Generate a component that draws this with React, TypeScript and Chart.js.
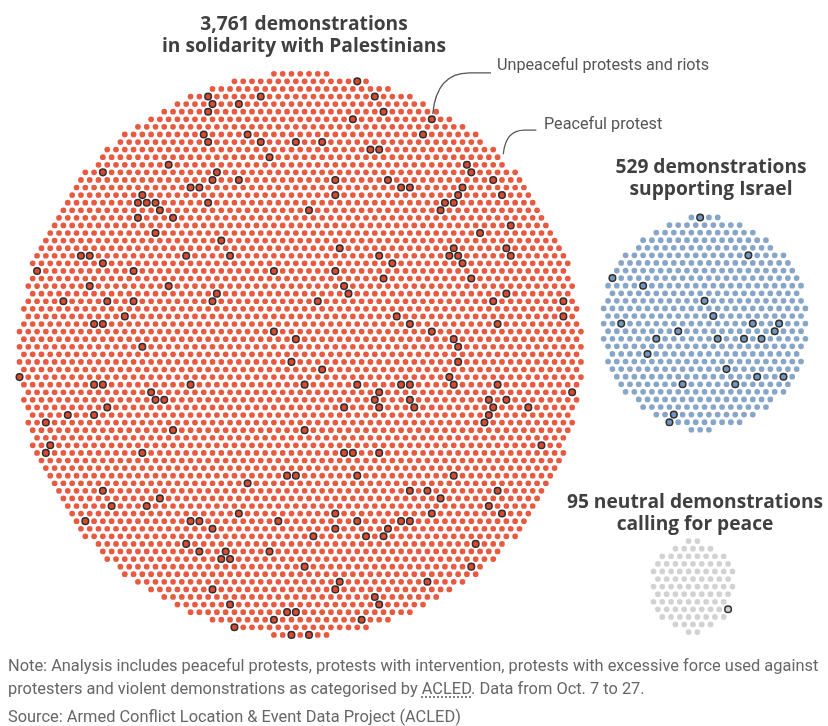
import React, { useEffect, useRef } from "react";
import { Chart, registerables } from "chart.js";

Chart.register(...registerables);

// ---------- DATA ----------
const categories = [
  "3,761 demonstrations in solidarity with Palestinians",
  "529 demonstrations supporting Israel",
  "95 neutral demonstrations calling for peace",
];
const demonstrations = [3761, 529, 95];

// Unpeaceful protests and riots: which dot of each group's hex grid is highlighted,
// given as [column, row] relative to the group's centre row.
const unpeacefulPalestinians: number[][] = [
  [-10, -34], [-4, -34], [-10, -33], [-7, -33], [-10, -32], [-11, -29], [-6, -29], [-10, -28], [-4, -28], [0, -28],
  [-3, -26], [-15, -25], [-22, -24], [-9, -24], [-10, -23], [-7, -23], [-12, -22], [-11, -22], [-18, -21], [-18, -20],
  [-17, -20], [-16, -20], [-10, -20], [-16, -19], [-18, -18], [-14, -18], [-16, -16], [-9, -15], [-25, -13], [-24, -13],
  [-13, -13], [-8, -13], [-22, -12], [-30, -11], [-19, -11], [-3, -11], [-24, -9], [-15, -9], [-9, -8], [-27, -7],
  [-22, -7], [-19, -7], [-10, -7], [-20, -5], [-23, -4], [-22, -4], [-3, -3], [0, -2], [-18, -1], [7, -36],
  [9, -34], [10, -32], [6, -31], [15, -31], [14, -29], [3, -28], [8, -27], [9, -27], [19, -25], [20, -24],
  [4, -23], [10, -23], [22, -23], [12, -22], [13, -22], [19, -22], [18, -21], [4, -21], [23, -21], [17, -20],
  [18, -20], [1, -19], [16, -19], [24, -17], [21, -16], [5, -14], [18, -14], [24, -14], [9, -13], [17, -13],
  [18, -13], [24, -13], [11, -12], [19, -12], [4, -11], [10, -10], [20, -10], [5, -9], [6, -8], [24, -8],
  [2, -7], [22, -7], [30, -7], [11, -5], [30, -5], [13, -4], [23, -4], [15, -3], [18, -2], [18, -1],
  [-1, 1], [-32, 3], [-23, 4], [-22, 4], [-12, 4], [-17, 5], [-16, 6], [-15, 6], [-22, 7], [-26, 8],
  [-23, 8], [-29, 9], [-14, 10], [-28, 12], [-29, 13], [-18, 13], [-1, 16], [0, 16], [-6, 17], [-22, 18],
  [-16, 19], [-21, 20], [-17, 20], [-7, 21], [-24, 22], [-12, 22], [-11, 22], [-2, 22], [-10, 23], [-13, 25],
  [-11, 26], [-8, 26], [-3, 26], [-9, 27], [-8, 27], [-10, 31], [-8, 33], [-1, 34], [0, 34], [-3, 35],
  [-7, 36], [-1, 37], [18, 1], [3, 2], [17, 3], [1, 4], [7, 4], [12, 4], [13, 4], [18, 4],
  [23, 4], [31, 5], [9, 5], [9, 6], [13, 6], [22, 6], [24, 6], [5, 7], [9, 7], [13, 7],
  [22, 7], [26, 7], [22, 8], [21, 9], [1, 10], [28, 12], [5, 13], [6, 13], [9, 13], [7, 16],
  [18, 16], [13, 18], [15, 18], [23, 18], [16, 19], [22, 20], [4, 21], [15, 21], [23, 21], [7, 22],
  [12, 22], [13, 22], [4, 23], [10, 23], [2, 24], [8, 24], [10, 24], [20, 25], [1, 28], [20, 28],
  [5, 30], [4, 31], [15, 30], [9, 32], [9, 33], [7, 35], [1, 37],
];
const unpeacefulIsrael: number[][] = [
  [0, -14], [5, -9], [-10, -6], [-7, -5], [0, -3], [1, -1], [-9, 0], [6, 0], [9, 0], [-3, 1],
  [8, 1], [-5, 2], [2, 2], [5, 2], [7, 2], [-6, 4], [3, 6], [6, 7], [9, 7], [-2, 8],
  [4, 8], [-3, 12], [-4, 13],
];
const unpeacefulNeutral: number[][] = [[4, 3]];

const unpeaceful = [unpeacefulPalestinians, unpeacefulIsrael, unpeacefulNeutral];

// ---------- LAYOUT / STYLE ----------
const W = 828;
const H = 726;
const DX = 8.89; // dot pitch
const DY = (DX * Math.sqrt(3)) / 2; // row pitch
const CENTERS = [
  { x: 298.7, y: 354.2 },
  { x: 708.45, y: 323.0 },
  { x: 696.75, y: 590.0 },
];
// vertical weighting of the packing distance (slightly taller discs for the small groups)
const PACK_ASPECT = [1, 0.98, 0.9];
const FILL = ["#e85a40", "#87a6c7", "#d2d2d2"];
const FILL_DARK = ["#d9482f", "#7395bb", "#d2d2d2"];
const RING = "#2e2e2e";
const TEXT = "#404040";

// hex-grid disc of n dots, closest to the centre first
function hexDisc(n: number, k: number): number[][] {
  const R = Math.ceil(Math.sqrt(n / Math.PI)) + 4;
  const pts: { c: number; r: number; d: number }[] = [];
  for (let r = -R; r <= R; r++) {
    for (let c = -R; c <= R + 1; c++) {
      const gx = c + (Math.abs(r) % 2 ? 0.5 : 0) - 0.5;
      const gy = ((r * Math.sqrt(3)) / 2) * k;
      pts.push({ c, r, d: gx * gx + gy * gy });
    }
  }
  pts.sort((a, b) => a.d - b.d || a.r - b.r || a.c - b.c);
  return pts.slice(0, n).map((p) => [p.c, p.r]);
}

function toPoint(g: number, cell: number[]) {
  const [c, r] = cell;
  const ctr = CENTERS[g];
  return {
    x: ctr.x + (c + (Math.abs(r) % 2 ? 0.5 : 0) - 0.5) * DX,
    y: ctr.y + r * DY,
  };
}

const CALLOUTS = [
  [[433, 110], [435.5, 84], [447, 68.5], [470, 68.5], [492, 68.5]],
  [[504.5, 151], [506, 134], [513, 126.5], [526, 126.5], [538, 126.5]],
];

const calloutPlugin = {
  id: "callouts",
  afterDatasetsDraw(chart: any) {
    const { ctx } = chart;
    const sx = chart.scales.x;
    const sy = chart.scales.y;
    const P = (p: number[]) => [sx.getPixelForValue(p[0]), sy.getPixelForValue(p[1])];
    ctx.save();
    ctx.strokeStyle = "#555555";
    ctx.lineWidth = 1.3;
    CALLOUTS.forEach((pts) => {
      const [a, b, c, d, e] = pts.map(P);
      ctx.beginPath();
      ctx.moveTo(a[0], a[1]);
      ctx.bezierCurveTo(b[0], b[1], c[0], c[1], d[0], d[1]);
      ctx.lineTo(e[0], e[1]);
      ctx.stroke();
    });
    ctx.restore();
  },
};

export default function App() {
  const ref = useRef<HTMLCanvasElement | null>(null);

  useEffect(() => {
    if (!ref.current) return;
    const datasets: any[] = [];
    demonstrations.forEach((n, g) => {
      const hi = new Set(unpeaceful[g].map((p) => p.join(",")));
      const base = hexDisc(n, PACK_ASPECT[g]).filter((p) => !hi.has(p.join(",")));
      datasets.push({
        label: categories[g] + " – peaceful protest",
        data: base.map((p) => toPoint(g, p)),
        pointRadius: 2.85,
        pointBorderWidth: 0,
        backgroundColor: FILL[g],
        borderColor: FILL[g],
      });
    });
    demonstrations.forEach((n, g) => {
      datasets.push({
        label: categories[g] + " – unpeaceful protests and riots",
        data: unpeaceful[g].map((p) => toPoint(g, p)),
        pointRadius: 3.3,
        pointBorderWidth: 1.5,
        backgroundColor: FILL_DARK[g],
        borderColor: RING,
      });
    });

    const chart = new Chart(ref.current, {
      type: "scatter",
      data: { datasets },
      options: {
        animation: false,
        responsive: false,
        maintainAspectRatio: false,
        events: [],
        layout: { padding: 0 },
        plugins: { legend: { display: false }, tooltip: { enabled: false } },
        scales: {
          x: { type: "linear", min: 0, max: W, display: false },
          y: { type: "linear", min: 0, max: H, reverse: true, display: false },
        },
      },
      plugins: [calloutPlugin],
    });
    return () => chart.destroy();
  }, []);

  const title: React.CSSProperties = {
    position: "absolute",
    width: 340,
    textAlign: "center",
    fontFamily: "'Open Sans', 'Noto Sans', sans-serif",
    fontWeight: 700,
    fontSize: 19.2,
    lineHeight: "21.5px",
    color: TEXT,
    whiteSpace: "nowrap",
  };
  const note: React.CSSProperties = {
    position: "absolute",
    left: 8,
    fontFamily: "Roboto, 'Noto Sans', sans-serif",
    fontSize: 16.4,
    color: "#666666",
    whiteSpace: "nowrap",
    lineHeight: "23px",
  };
  const anno: React.CSSProperties = {
    position: "absolute",
    fontFamily: "Roboto, 'Noto Sans', sans-serif",
    fontSize: 16.2,
    lineHeight: "16px",
    color: "#555555",
    whiteSpace: "nowrap",
  };

  return (
    <div style={{ position: "absolute", left: 0, top: 0, width: W, height: H, background: "#fff", overflow: "hidden" }}>
      <canvas ref={ref} width={W} height={H} style={{ position: "absolute", left: 0, top: 0, width: W, height: H }} />
      <div style={{ ...title, left: 304 - 170, top: 12 }}>
        3,761 demonstrations
        <br />
        in solidarity with Palestinians
      </div>
      <div style={{ ...title, left: 711 - 170, top: 155 }}>
        529 demonstrations
        <br />
        supporting Israel
      </div>
      <div style={{ ...title, left: 695 - 170, top: 490 }}>
        95 neutral demonstrations
        <br />
        calling for peace
      </div>
      <div style={{ ...anno, left: 497, top: 57 }}>Unpeaceful protests and riots</div>
      <div style={{ ...anno, left: 544, top: 115.5 }}>Peaceful protest</div>
      <div style={{ ...note, top: 654 }}>
        Note: Analysis includes peaceful protests, protests with intervention, protests with excessive force used against
        <br />
        protesters and violent demonstrations as categorised by{" "}
        <span style={{ textDecoration: "underline dotted", textUnderlineOffset: 3 }}>ACLED</span>. Data from Oct. 7 to 27.
      </div>
      <div style={{ ...note, top: 705 }}>Source: Armed Conflict Location &amp; Event Data Project (ACLED)</div>
    </div>
  );
}
